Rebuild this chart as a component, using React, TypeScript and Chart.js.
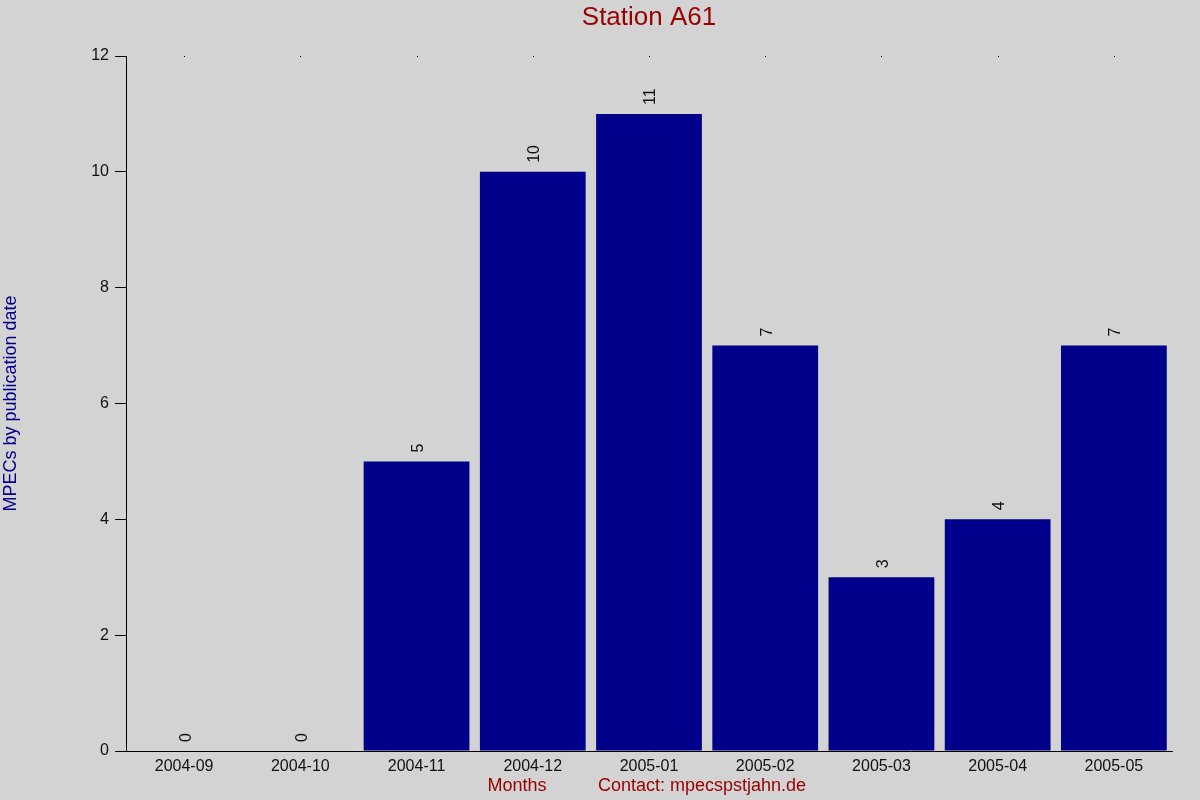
import React, { useEffect, useRef } from 'react';
import { Chart, registerables } from 'chart.js';

Chart.register(...registerables);

const months = ['2004-09', '2004-10', '2004-11', '2004-12', '2005-01', '2005-02', '2005-03', '2005-04', '2005-05'];
const mpecCounts = [0, 0, 5, 10, 11, 7, 3, 4, 7];
const yTicks = [0, 2, 4, 6, 8, 10, 12];

const FONT = '"Liberation Sans", Arial, sans-serif';

// draws titles, rotated value labels and the little dots on the top edge
const decorPlugin = {
    id: 'decor',
    afterDatasetsDraw(chart: any) {
        const { ctx, chartArea, scales } = chart;
        const meta = chart.getDatasetMeta(0);
        ctx.save();

        // value labels, rotated
        ctx.font = `16px ${FONT}`;
        ctx.fillStyle = '#111';
        ctx.textAlign = 'left';
        ctx.textBaseline = 'middle';
        meta.data.forEach((bar: any, i: number) => {
            ctx.save();
            ctx.translate(bar.x + 2, bar.y - 9);
            ctx.rotate(-Math.PI / 2);
            ctx.fillText(String(mpecCounts[i]), 0, 0);
            ctx.restore();
        });

        // dots on top edge at category centres
        ctx.fillStyle = '#000';
        months.forEach((_, i) => {
            const x = scales.x.getPixelForValue(i);
            ctx.fillRect(Math.round(x), chartArea.top, 1, 1);
        });

        const midX = (chartArea.left + chartArea.right) / 2;
        const midY = (chartArea.top + chartArea.bottom) / 2;

        // title
        ctx.font = `26px ${FONT}`;
        ctx.fillStyle = '#990000';
        ctx.textAlign = 'center';
        ctx.textBaseline = 'middle';
        ctx.fillText('Station A61', midX, 18);

        // x titles
        ctx.font = `18px ${FONT}`;
        ctx.fillText('Months', 517, 786);
        ctx.textAlign = 'left';
        ctx.fillText('Contact: mpecspstjahn.de', 598, 786);

        // y title
        ctx.fillStyle = '#00008B';
        ctx.textAlign = 'center';
        ctx.save();
        ctx.translate(11, midY);
        ctx.rotate(-Math.PI / 2);
        ctx.fillText('MPECs by publication date', 0, 0);
        ctx.restore();

        ctx.restore();
    },
};

function App() {
    const chartRef = useRef<HTMLCanvasElement | null>(null);
    const chartInstance = useRef<Chart | null>(null);

    useEffect(() => {
        document.body.style.margin = '0';
        document.body.style.background = '#D3D3D3';
        if (!chartRef.current) return;
        if (chartInstance.current) chartInstance.current.destroy();

        chartInstance.current = new Chart(chartRef.current, {
            type: 'bar',
            data: {
                labels: months,
                datasets: [
                    {
                        data: mpecCounts,
                        backgroundColor: '#00008B',
                        borderWidth: 0,
                        barPercentage: 0.91,
                        categoryPercentage: 1,
                    },
                ],
            },
            options: {
                responsive: false,
                maintainAspectRatio: false,
                animation: false,
                layout: { padding: { left: 0, right: 28, top: 56, bottom: 0 } },
                plugins: {
                    legend: { display: false },
                    tooltip: { enabled: false },
                    title: { display: false },
                },
                scales: {
                    x: {
                        grid: { display: false, drawTicks: false },
                        border: { display: true, color: '#000', width: 1 },
                        ticks: {
                            color: '#111',
                            font: { family: FONT, size: 16 },
                            padding: 6,
                            maxRotation: 0,
                            autoSkip: false,
                        },
                        afterFit(scale: any) {
                            scale.height = 49;
                        },
                    },
                    y: {
                        min: 0,
                        max: 12,
                        afterBuildTicks(scale: any) {
                            scale.ticks = yTicks.map(v => ({ value: v }));
                        },
                        grid: {
                            drawOnChartArea: false,
                            drawTicks: true,
                            tickLength: 11,
                            color: '#000',
                        },
                        border: { display: true, color: '#000', width: 1 },
                        ticks: {
                            color: '#111',
                            font: { family: FONT, size: 16 },
                            padding: 6,
                        },
                        afterFit(scale: any) {
                            scale.width = 126;
                        },
                    },
                },
            },
            plugins: [decorPlugin],
        });

        return () => {
            if (chartInstance.current) {
                chartInstance.current.destroy();
                chartInstance.current = null;
            }
        };
    }, []);

    return (
        <div style={{ width: 1200, height: 800, background: '#D3D3D3' }}>
            <canvas ref={chartRef} width={1200} height={800} style={{ width: 1200, height: 800, display: 'block' }} />
        </div>
    );
}

export default App;
